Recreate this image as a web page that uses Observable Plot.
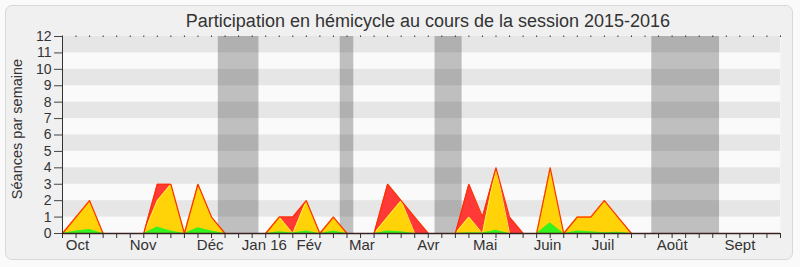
<!DOCTYPE html>
<html><head><meta charset="utf-8">
<script src="https://cdn.jsdelivr.net/npm/d3@7"></script>
<script src="https://cdn.jsdelivr.net/npm/@observablehq/plot@0.6"></script>
<style>
body{margin:0;background:#fafafa;font-family:"Liberation Sans",Arial,sans-serif;}
#wrap{position:relative;width:800px;height:267px;overflow:hidden;}
#frame{position:absolute;left:5px;top:5px;width:786px;height:253px;border:1px solid #d8d8d8;border-radius:7px;background:#f0f0f0;}
#title{position:absolute;left:0;top:6px;width:856px;height:30px;text-align:center;font-size:18px;line-height:30px;color:#333;white-space:nowrap;}
#chart{position:absolute;left:0;top:30px;}
</style></head><body>
<div id="wrap"><div id="frame"></div><div id="title">Participation en hémicycle au cours de la session 2015-2016</div><div id="chart"></div></div>
<script>
const weeks  = [0,1,2,3,4,5,6,7,8,9,10,11,12,13,14,15,16,17,18,19,20,21,22,23,24,25,26,27,28,29,30,31,32,33,34,35,36,37,38,39,40,41,42,43,44,45,46,47,48,49,50,51,52,53];
const red    = [0,1,2,0,0,0,0,3,3,0,3,1,0,0,0,0,1,1,2,0,1,0,0,0,3,2,1,0,0,0,3,1,4,1,0,0,4,0,1,1,2,1,0,0,0,0,0,0,0,0,0,0,0,0];
const yellow = [0,1,2,0,0,0,0,2,3,0,3,1,0,0,0,0,1,0,2,0,1,0,0,0,1,2,0,0,0,0,1,0,4,0,0,0,4,0,1,1,2,1,0,0,0,0,0,0,0,0,0,0,0,0];
const green  = [0,0.15,0.25,0,0,0,0,0.4,0.15,0,0.35,0.15,0,0,0,0,0.1,0.03,0.15,0,0.15,0,0,0,0.15,0.1,0,0,0,0,0.05,0.03,0.2,0,0,0,0.65,0,0.15,0.1,0.05,0.07,0,0,0,0,0,0,0,0,0,0,0,0];
const vacStart = [11.5, 20.5, 27.5, 43.5];
const vacEnd   = [14.5, 21.5, 29.5, 48.5];
const monthLabels = ["Oct","Nov","Déc","Jan 16","Fév","Mar","Avr","Mai","Juin","Juil","Août","Sept"];
const monthPos    = [1.1, 5.95, 10.9, 14.9, 18.2, 22.1, 27.0, 31.2, 35.8, 39.9, 45.0, 50.0];
const yTicks = [0,1,2,3,4,5,6,7,8,9,10,11,12];
const bandLow = [1,3,5,7,9,11];
const yTitle = "Séances par semaine";

const data = weeks.map((w,i)=>({w, red:red[i], yellow:yellow[i], green:green[i]}));
const vac = vacStart.map((s,i)=>({s, e:vacEnd[i]}));
const months = monthLabels.map((m,i)=>({m, p:monthPos[i]}));

const chart = Plot.plot({
  width:800, height:237, marginTop:6, marginBottom:34, marginLeft:62, marginRight:20,
  style:{background:"transparent", fontFamily:"Liberation Sans, Arial, sans-serif", color:"#333", overflow:"visible"},
  x:{domain:[0,53], label:null},
  y:{domain:[0,12], label:null},
  marks:[
    Plot.frame({fill:"#fafafa", stroke:null}),
    Plot.rect(bandLow, {y1:d=>d, y2:d=>d+1, fill:"#e6e6e6"}),
    Plot.rect(vac, {x1:"s", x2:"e", fill:"black", fillOpacity:0.235}),
    Plot.areaY(data, {x:"w", y:"red", fill:"#ff3838"}),
    Plot.areaY(data, {x:"w", y:"yellow", fill:"#ffd308"}),
    Plot.lineY(data, {x:"w", y:"yellow", stroke:"#ffee40", strokeWidth:1}),
    Plot.areaY(data, {x:"w", y:"green", fill:"#36f21c"}),
    Plot.lineY(data, {x:"w", y:"red", stroke:"#ff3000", strokeWidth:1.2}),
    Plot.axisY({ticks:yTicks, tickSize:8, tickPadding:3, fontSize:14, label:null, stroke:"#444"}),
    Plot.axisX({ticks:weeks, tickSize:5, tickFormat:()=>"", label:null, stroke:"#333"}),
    Plot.axisX({anchor:"top", ticks:weeks, tickSize:1.5, tickFormat:()=>"", label:null, stroke:"#333"}),
    Plot.text(months, {x:"p", text:"m", frameAnchor:"bottom", lineAnchor:"top", dy:6, fontSize:15, fill:"#333"}),
    Plot.ruleX([0], {stroke:"#333"}),
    Plot.ruleY([0], {stroke:"#3a2020", strokeWidth:1.5}),
    Plot.text([yTitle], {text:d=>d, frameAnchor:"left", textAnchor:"middle", lineAnchor:"middle", dx:-45, dy:-6, rotate:-90, fontSize:14.5, fill:"#333"})
  ]
});
document.getElementById("chart").appendChild(chart);
</script>
</body></html>
